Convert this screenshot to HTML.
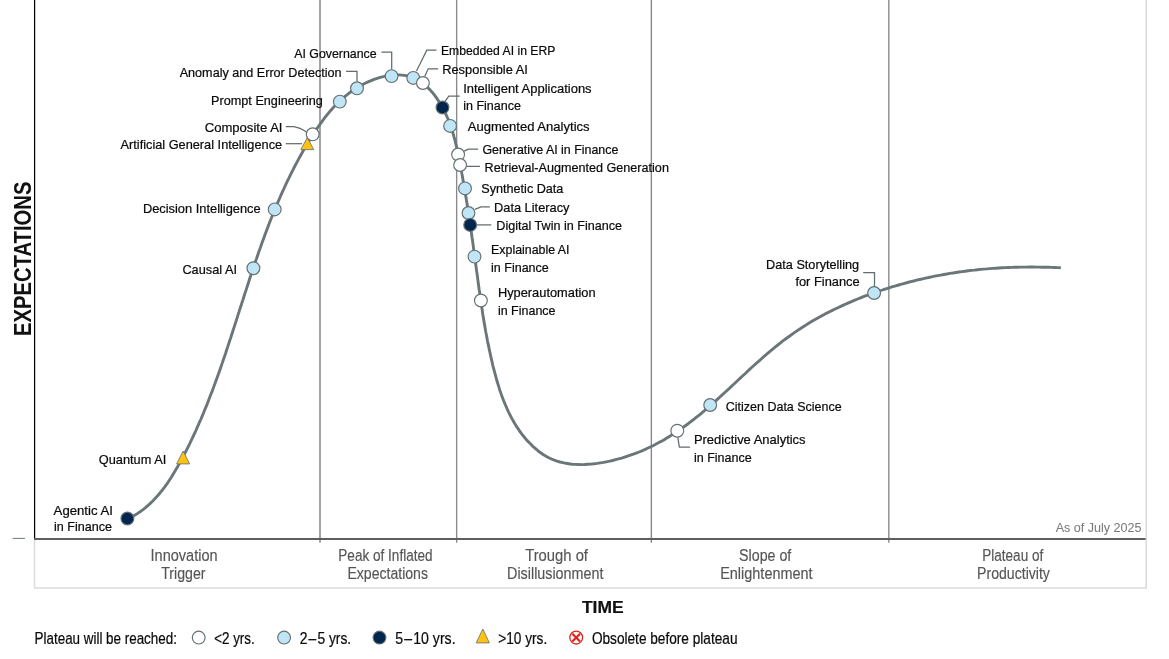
<!DOCTYPE html>
<html lang="en"><head><meta charset="utf-8"><title>Hype Cycle</title>
<style>html,body{margin:0;padding:0;background:#fff}body{width:1169px;height:659px;overflow:hidden}svg{will-change:transform}svg text{font-family:"Liberation Sans",sans-serif}</style>
</head><body>
<svg width="1169" height="659" viewBox="0 0 1169 659" style="display:block">
<rect x="0" y="0" width="1169" height="659" fill="#fff"/>
<path d="M34.5,540 V588 H1146.2 V0" fill="none" stroke="#dcdcdc" stroke-width="1.6"/>
<line x1="320.0" y1="0" x2="320.0" y2="542.8" stroke="#787878" stroke-width="1.35"/>
<line x1="456.65" y1="0" x2="456.65" y2="542.8" stroke="#8a8a8a" stroke-width="1.35"/>
<line x1="651.35" y1="0" x2="651.35" y2="542.8" stroke="#868686" stroke-width="1.35"/>
<line x1="888.85" y1="0" x2="888.85" y2="542.8" stroke="#868686" stroke-width="1.35"/>
<line x1="34.6" y1="0" x2="34.6" y2="539.7" stroke="#000" stroke-width="1.25"/>
<line x1="34.0" y1="538.9" x2="1145.6" y2="538.9" stroke="#5e5e5e" stroke-width="2"/>
<line x1="12.7" y1="538.4" x2="24.9" y2="538.4" stroke="#6a7678" stroke-width="1"/>
<path d="M127.6,519.0 L130.5,517.6 L133.2,516.1 L135.9,514.6 L138.4,512.9 L140.9,511.2 L143.4,509.3 L145.8,507.4 L148.1,505.4 L150.3,503.4 L152.5,501.3 L154.6,499.1 L156.7,496.8 L158.7,494.5 L160.6,492.2 L162.5,489.8 L164.4,487.3 L166.2,484.8 L168.0,482.3 L169.7,479.7 L171.4,477.1 L173.0,474.4 L174.6,471.8 L176.2,469.1 L177.8,466.4 L179.3,463.6 L180.8,460.9 L182.3,458.1 L183.7,455.4 L185.2,452.6 L186.6,449.8 L188.0,447.1 L189.4,444.3 L190.7,441.5 L192.1,438.7 L193.4,435.9 L194.7,433.1 L196.0,430.3 L197.2,427.5 L198.5,424.6 L199.7,421.8 L201.0,419.0 L202.2,416.1 L203.4,413.3 L204.5,410.4 L205.7,407.6 L206.9,404.7 L208.0,401.9 L209.1,399.0 L210.2,396.1 L211.3,393.3 L212.4,390.4 L213.5,387.5 L214.6,384.6 L215.6,381.7 L216.7,378.9 L217.7,376.0 L218.8,373.1 L219.8,370.2 L220.8,367.3 L221.8,364.4 L222.8,361.4 L223.8,358.5 L224.8,355.6 L225.8,352.7 L226.7,349.8 L227.7,346.9 L228.7,343.9 L229.6,341.0 L230.6,338.1 L231.5,335.2 L232.5,332.2 L233.4,329.3 L234.4,326.4 L235.3,323.4 L236.3,320.5 L237.2,317.6 L238.1,314.6 L239.1,311.7 L240.0,308.7 L241.0,305.8 L241.9,302.8 L242.9,299.9 L243.8,297.0 L244.7,294.0 L245.7,291.1 L246.7,288.1 L247.6,285.2 L248.6,282.2 L249.5,279.3 L250.5,276.3 L251.5,273.4 L252.5,270.5 L253.5,267.5 L254.4,264.6 L255.4,261.6 L256.5,258.7 L257.5,255.8 L258.5,252.8 L259.5,249.9 L260.6,247.0 L261.6,244.0 L262.7,241.1 L263.7,238.2 L264.8,235.3 L265.9,232.3 L267.0,229.4 L268.1,226.5 L269.2,223.6 L270.3,220.7 L271.5,217.8 L272.6,214.9 L273.8,212.1 L275.0,209.2 L276.2,206.3 L277.4,203.5 L278.6,200.6 L279.8,197.8 L281.1,194.9 L282.3,192.1 L283.6,189.3 L284.9,186.5 L286.2,183.7 L287.5,180.9 L288.9,178.1 L290.2,175.3 L291.6,172.5 L293.0,169.8 L294.4,167.0 L295.8,164.3 L297.3,161.6 L298.7,158.9 L300.2,156.2 L301.7,153.5 L303.2,150.8 L304.8,148.2 L306.3,145.5 L307.9,142.9 L309.5,140.2 L311.1,137.6 L312.8,135.0 L314.4,132.5 L316.1,129.9 L317.8,127.4 L319.6,124.8 L321.4,122.3 L323.2,119.9 L325.0,117.4 L326.9,115.0 L328.9,112.6 L330.9,110.3 L332.9,108.0 L335.0,105.8 L337.1,103.6 L339.3,101.4 L341.6,99.3 L343.9,97.3 L346.3,95.3 L348.8,93.4 L351.3,91.5 L353.9,89.7 L356.6,88.0 L359.4,86.3 L362.2,84.8 L365.1,83.3 L368.1,81.9 L371.1,80.6 L374.1,79.4 L377.2,78.3 L380.3,77.4 L383.4,76.6 L386.5,75.9 L389.6,75.4 L392.7,75.1 L395.7,74.9 L398.8,74.9 L401.8,75.1 L404.7,75.4 L407.6,76.0 L410.4,76.7 L413.2,77.7 L415.8,78.9 L418.4,80.3 L420.9,81.9 L423.3,83.6 L425.7,85.6 L427.9,87.7 L430.1,89.9 L432.1,92.2 L434.1,94.7 L436.0,97.2 L437.8,99.8 L439.6,102.5 L441.2,105.2 L442.7,108.0 L444.2,110.8 L445.6,113.6 L446.9,116.5 L448.1,119.3 L449.2,122.2 L450.3,125.1 L451.3,128.1 L452.3,131.0 L453.2,133.9 L454.0,136.9 L454.9,139.9 L455.6,142.9 L456.3,145.9 L457.0,148.9 L457.7,151.9 L458.3,154.9 L458.9,158.0 L459.5,161.0 L460.1,164.0 L460.7,167.1 L461.3,170.1 L461.8,173.2 L462.4,176.2 L462.9,179.2 L463.4,182.3 L464.0,185.3 L464.5,188.4 L465.0,191.4 L465.5,194.5 L466.0,197.5 L466.5,200.6 L467.0,203.6 L467.5,206.7 L468.0,209.7 L468.4,212.8 L468.9,215.9 L469.4,218.9 L469.8,222.0 L470.3,225.0 L470.7,228.1 L471.2,231.1 L471.6,234.2 L472.0,237.3 L472.5,240.3 L472.9,243.4 L473.3,246.4 L473.7,249.5 L474.2,252.6 L474.6,255.6 L475.0,258.7 L475.4,261.7 L475.8,264.8 L476.2,267.9 L476.6,270.9 L477.1,274.0 L477.5,277.1 L477.9,280.1 L478.3,283.2 L478.7,286.2 L479.1,289.3 L479.6,292.3 L480.0,295.4 L480.4,298.5 L480.9,301.5 L481.3,304.6 L481.8,307.6 L482.3,310.7 L482.7,313.7 L483.2,316.8 L483.7,319.8 L484.2,322.9 L484.8,325.9 L485.3,328.9 L485.8,332.0 L486.4,335.0 L487.0,338.1 L487.5,341.1 L488.2,344.1 L488.8,347.1 L489.4,350.2 L490.1,353.2 L490.7,356.2 L491.4,359.2 L492.1,362.2 L492.8,365.3 L493.6,368.3 L494.4,371.3 L495.2,374.3 L496.0,377.3 L496.8,380.3 L497.7,383.2 L498.6,386.2 L499.5,389.2 L500.5,392.1 L501.5,395.0 L502.6,397.9 L503.7,400.8 L504.9,403.7 L506.1,406.5 L507.3,409.3 L508.6,412.1 L510.0,414.9 L511.4,417.6 L512.9,420.3 L514.4,423.0 L516.0,425.6 L517.7,428.2 L519.5,430.8 L521.3,433.3 L523.2,435.8 L525.2,438.2 L527.2,440.6 L529.4,442.8 L531.6,445.1 L533.8,447.2 L536.1,449.2 L538.5,451.2 L541.0,453.0 L543.5,454.7 L546.1,456.3 L548.8,457.7 L551.5,459.0 L554.3,460.2 L557.1,461.2 L560.0,462.0 L563.0,462.7 L566.0,463.3 L569.0,463.8 L572.1,464.2 L575.1,464.4 L578.3,464.5 L581.4,464.6 L584.5,464.5 L587.7,464.3 L590.8,464.1 L594.0,463.8 L597.1,463.4 L600.3,462.9 L603.4,462.4 L606.5,461.8 L609.5,461.2 L612.6,460.5 L615.6,459.7 L618.6,458.9 L621.6,458.1 L624.6,457.2 L627.5,456.2 L630.4,455.2 L633.3,454.2 L636.2,453.1 L639.1,452.0 L641.9,450.8 L644.7,449.6 L647.5,448.3 L650.3,447.0 L653.0,445.7 L655.7,444.3 L658.4,442.8 L661.1,441.4 L663.8,439.9 L666.4,438.3 L669.0,436.7 L671.6,435.1 L674.2,433.5 L676.8,431.8 L679.3,430.1 L681.8,428.3 L684.3,426.5 L686.8,424.7 L689.2,422.9 L691.7,421.0 L694.1,419.1 L696.5,417.2 L698.9,415.3 L701.3,413.3 L703.6,411.3 L706.0,409.3 L708.3,407.3 L710.7,405.3 L713.0,403.2 L715.3,401.2 L717.6,399.1 L719.9,397.0 L722.2,394.9 L724.5,392.8 L726.8,390.7 L729.1,388.6 L731.4,386.4 L733.7,384.3 L735.9,382.2 L738.2,380.0 L740.5,377.9 L742.8,375.8 L745.1,373.7 L747.3,371.5 L749.6,369.4 L751.9,367.3 L754.2,365.2 L756.5,363.1 L758.9,361.1 L761.2,359.0 L763.5,356.9 L765.9,354.9 L768.2,352.9 L770.6,350.9 L773.0,348.9 L775.4,346.9 L777.8,345.0 L780.2,343.1 L782.6,341.2 L785.1,339.3 L787.6,337.5 L790.1,335.7 L792.6,333.9 L795.1,332.1 L797.7,330.4 L800.2,328.7 L802.8,327.0 L805.4,325.4 L808.0,323.7 L810.7,322.1 L813.3,320.6 L816.0,319.0 L818.7,317.5 L821.4,316.0 L824.1,314.6 L826.8,313.1 L829.6,311.7 L832.3,310.4 L835.1,309.0 L837.9,307.7 L840.7,306.4 L843.5,305.1 L846.3,303.8 L849.1,302.6 L852.0,301.4 L854.8,300.2 L857.7,299.0 L860.5,297.9 L863.4,296.7 L866.3,295.6 L869.2,294.6 L872.1,293.5 L875.0,292.5 L878.0,291.5 L880.9,290.5 L883.8,289.5 L886.8,288.6 L889.7,287.6 L892.7,286.7 L895.7,285.9 L898.6,285.0 L901.6,284.2 L904.6,283.3 L907.6,282.5 L910.6,281.7 L913.6,281.0 L916.6,280.2 L919.6,279.5 L922.6,278.8 L925.6,278.1 L928.6,277.5 L931.6,276.8 L934.7,276.2 L937.7,275.6 L940.7,275.1 L943.8,274.5 L946.8,274.0 L949.9,273.4 L952.9,273.0 L956.0,272.5 L959.0,272.0 L962.1,271.6 L965.2,271.2 L968.2,270.8 L971.3,270.4 L974.4,270.1 L977.4,269.7 L980.5,269.4 L983.6,269.1 L986.7,268.9 L989.8,268.6 L992.8,268.4 L995.9,268.2 L999.0,268.0 L1002.1,267.8 L1005.2,267.6 L1008.3,267.5 L1011.4,267.4 L1014.4,267.3 L1017.5,267.2 L1020.6,267.1 L1023.7,267.1 L1026.8,267.1 L1029.9,267.0 L1033.0,267.0 L1036.1,267.1 L1039.2,267.1 L1042.3,267.2 L1045.4,267.2 L1048.4,267.3 L1051.5,267.4 L1054.6,267.5 L1057.7,267.6 L1060.8,267.8" fill="none" stroke="#6a7678" stroke-width="2.9" stroke-linecap="butt" stroke-linejoin="round"/>
<path d="M285.8,126.7 H294 Q300,127.5 306.3,131.8" fill="none" stroke="#606c6e" stroke-width="1.25"/>
<path d="M285.8,143.7 H302" fill="none" stroke="#606c6e" stroke-width="1.25"/>
<path d="M381.5,52.2 H391.7 V69.5" fill="none" stroke="#606c6e" stroke-width="1.25"/>
<path d="M346.1,71.3 H357 V81.5" fill="none" stroke="#606c6e" stroke-width="1.25"/>
<path d="M436.5,50.1 H426.8 L416.5,71" fill="none" stroke="#606c6e" stroke-width="1.25"/>
<path d="M438.1,68.8 H428.2 L424.8,76.2" fill="none" stroke="#606c6e" stroke-width="1.25"/>
<path d="M459.7,96.1 H448.8 L444.7,101.9" fill="none" stroke="#606c6e" stroke-width="1.25"/>
<path d="M478.1,149.1 H468.3 L464.2,151.1" fill="none" stroke="#606c6e" stroke-width="1.25"/>
<path d="M466.7,166.4 H480" fill="none" stroke="#606c6e" stroke-width="1.25"/>
<path d="M489.9,206.9 H481 L474.9,209.3" fill="none" stroke="#606c6e" stroke-width="1.25"/>
<path d="M477,224.9 H491.3" fill="none" stroke="#606c6e" stroke-width="1.25"/>
<path d="M677.8,437.3 L679.4,447.1 H690.1" fill="none" stroke="#606c6e" stroke-width="1.25"/>
<path d="M863.2,272.5 H874.5 V286.5" fill="none" stroke="#606c6e" stroke-width="1.25"/>
<path d="M183.1,451.0 L189.6,463.9 L176.6,463.9 Z" fill="#ffc20e" stroke="#6f787a" stroke-width="0.9" stroke-linejoin="miter"/>
<path d="M307.3,137.6 L313.8,149.6 L300.8,149.6 Z" fill="#ffc20e" stroke="#6f787a" stroke-width="0.9" stroke-linejoin="miter"/>
<circle cx="127.4" cy="518.5" r="6.4" fill="#00264f" stroke="#647072" stroke-width="1.15"/>
<circle cx="253.4" cy="268.2" r="6.4" fill="#bfe5f6" stroke="#647072" stroke-width="1.15"/>
<circle cx="274.7" cy="209.4" r="6.4" fill="#bfe5f6" stroke="#647072" stroke-width="1.15"/>
<circle cx="312.7" cy="134.3" r="6.4" fill="#ffffff" stroke="#647072" stroke-width="1.15"/>
<circle cx="339.8" cy="101.6" r="6.4" fill="#bfe5f6" stroke="#647072" stroke-width="1.15"/>
<circle cx="357" cy="88.3" r="6.4" fill="#bfe5f6" stroke="#647072" stroke-width="1.15"/>
<circle cx="391.6" cy="76.1" r="6.4" fill="#bfe5f6" stroke="#647072" stroke-width="1.15"/>
<circle cx="413.3" cy="77.9" r="6.4" fill="#bfe5f6" stroke="#647072" stroke-width="1.15"/>
<circle cx="422.9" cy="83.0" r="6.4" fill="#ffffff" stroke="#647072" stroke-width="1.15"/>
<circle cx="442.5" cy="107.5" r="6.4" fill="#00264f" stroke="#647072" stroke-width="1.15"/>
<circle cx="450.1" cy="125.9" r="6.4" fill="#bfe5f6" stroke="#647072" stroke-width="1.15"/>
<circle cx="458.1" cy="154.5" r="6.4" fill="#ffffff" stroke="#647072" stroke-width="1.15"/>
<circle cx="460.1" cy="165" r="6.4" fill="#ffffff" stroke="#647072" stroke-width="1.15"/>
<circle cx="465" cy="188.4" r="6.4" fill="#bfe5f6" stroke="#647072" stroke-width="1.15"/>
<circle cx="468.5" cy="213" r="6.4" fill="#bfe5f6" stroke="#647072" stroke-width="1.15"/>
<circle cx="470.2" cy="224.9" r="6.4" fill="#00264f" stroke="#647072" stroke-width="1.15"/>
<circle cx="474.5" cy="256.6" r="6.4" fill="#bfe5f6" stroke="#647072" stroke-width="1.15"/>
<circle cx="480.9" cy="300.5" r="6.4" fill="#ffffff" stroke="#647072" stroke-width="1.15"/>
<circle cx="677.3" cy="430.7" r="6.4" fill="#ffffff" stroke="#647072" stroke-width="1.15"/>
<circle cx="710.2" cy="405" r="6.4" fill="#bfe5f6" stroke="#647072" stroke-width="1.15"/>
<circle cx="874.1" cy="293" r="6.4" fill="#bfe5f6" stroke="#647072" stroke-width="1.15"/>
<text x="53.6" y="515.0" font-size="13.4" fill="#0a0a0a" font-weight="normal" textLength="59.3" lengthAdjust="spacingAndGlyphs" stroke="#0a0a0a" stroke-width="0.22">Agentic AI</text>
<text x="54.0" y="531.0" font-size="13.4" fill="#0a0a0a" font-weight="normal" textLength="58.0" lengthAdjust="spacingAndGlyphs" stroke="#0a0a0a" stroke-width="0.22">in Finance</text>
<text x="98.8" y="464.0" font-size="13.4" fill="#0a0a0a" font-weight="normal" textLength="67.5" lengthAdjust="spacingAndGlyphs" stroke="#0a0a0a" stroke-width="0.22">Quantum AI</text>
<text x="182.4" y="274.0" font-size="13.4" fill="#0a0a0a" font-weight="normal" textLength="54.6" lengthAdjust="spacingAndGlyphs" stroke="#0a0a0a" stroke-width="0.22">Causal AI</text>
<text x="142.9" y="213.0" font-size="13.4" fill="#0a0a0a" font-weight="normal" textLength="117.8" lengthAdjust="spacingAndGlyphs" stroke="#0a0a0a" stroke-width="0.22">Decision Intelligence</text>
<text x="120.5" y="149.0" font-size="13.4" fill="#0a0a0a" font-weight="normal" textLength="161.6" lengthAdjust="spacingAndGlyphs" stroke="#0a0a0a" stroke-width="0.22">Artificial General Intelligence</text>
<text x="204.7" y="132.0" font-size="13.4" fill="#0a0a0a" font-weight="normal" textLength="77.8" lengthAdjust="spacingAndGlyphs" stroke="#0a0a0a" stroke-width="0.22">Composite AI</text>
<text x="211.1" y="105.0" font-size="13.4" fill="#0a0a0a" font-weight="normal" textLength="111.8" lengthAdjust="spacingAndGlyphs" stroke="#0a0a0a" stroke-width="0.22">Prompt Engineering</text>
<text x="179.7" y="77.0" font-size="13.4" fill="#0a0a0a" font-weight="normal" textLength="161.9" lengthAdjust="spacingAndGlyphs" stroke="#0a0a0a" stroke-width="0.22">Anomaly and Error Detection</text>
<text x="294.2" y="58.0" font-size="13.4" fill="#0a0a0a" font-weight="normal" textLength="82.5" lengthAdjust="spacingAndGlyphs" stroke="#0a0a0a" stroke-width="0.22">AI Governance</text>
<text x="441.0" y="55.0" font-size="13.4" fill="#0a0a0a" font-weight="normal" textLength="114.3" lengthAdjust="spacingAndGlyphs" stroke="#0a0a0a" stroke-width="0.22">Embedded AI in ERP</text>
<text x="442.2" y="74.0" font-size="13.4" fill="#0a0a0a" font-weight="normal" textLength="85.6" lengthAdjust="spacingAndGlyphs" stroke="#0a0a0a" stroke-width="0.22">Responsible AI</text>
<text x="463.2" y="93.0" font-size="13.4" fill="#0a0a0a" font-weight="normal" textLength="128.4" lengthAdjust="spacingAndGlyphs" stroke="#0a0a0a" stroke-width="0.22">Intelligent Applications</text>
<text x="463.2" y="110.0" font-size="13.4" fill="#0a0a0a" font-weight="normal" textLength="57.8" lengthAdjust="spacingAndGlyphs" stroke="#0a0a0a" stroke-width="0.22">in Finance</text>
<text x="467.7" y="131.0" font-size="13.4" fill="#0a0a0a" font-weight="normal" textLength="121.9" lengthAdjust="spacingAndGlyphs" stroke="#0a0a0a" stroke-width="0.22">Augmented Analytics</text>
<text x="482.4" y="154.0" font-size="13.4" fill="#0a0a0a" font-weight="normal" textLength="136.0" lengthAdjust="spacingAndGlyphs" stroke="#0a0a0a" stroke-width="0.22">Generative AI in Finance</text>
<text x="484.6" y="172.0" font-size="13.4" fill="#0a0a0a" font-weight="normal" textLength="184.3" lengthAdjust="spacingAndGlyphs" stroke="#0a0a0a" stroke-width="0.22">Retrieval-Augmented Generation</text>
<text x="481.3" y="193.0" font-size="13.4" fill="#0a0a0a" font-weight="normal" textLength="82.1" lengthAdjust="spacingAndGlyphs" stroke="#0a0a0a" stroke-width="0.22">Synthetic Data</text>
<text x="494.0" y="212.0" font-size="13.4" fill="#0a0a0a" font-weight="normal" textLength="75.5" lengthAdjust="spacingAndGlyphs" stroke="#0a0a0a" stroke-width="0.22">Data Literacy</text>
<text x="496.3" y="230.0" font-size="13.4" fill="#0a0a0a" font-weight="normal" textLength="125.8" lengthAdjust="spacingAndGlyphs" stroke="#0a0a0a" stroke-width="0.22">Digital Twin in Finance</text>
<text x="491.1" y="254.0" font-size="13.4" fill="#0a0a0a" font-weight="normal" textLength="78.4" lengthAdjust="spacingAndGlyphs" stroke="#0a0a0a" stroke-width="0.22">Explainable AI</text>
<text x="491.1" y="272.0" font-size="13.4" fill="#0a0a0a" font-weight="normal" textLength="57.7" lengthAdjust="spacingAndGlyphs" stroke="#0a0a0a" stroke-width="0.22">in Finance</text>
<text x="497.9" y="297.0" font-size="13.4" fill="#0a0a0a" font-weight="normal" textLength="97.7" lengthAdjust="spacingAndGlyphs" stroke="#0a0a0a" stroke-width="0.22">Hyperautomation</text>
<text x="497.9" y="315.0" font-size="13.4" fill="#0a0a0a" font-weight="normal" textLength="57.7" lengthAdjust="spacingAndGlyphs" stroke="#0a0a0a" stroke-width="0.22">in Finance</text>
<text x="725.8" y="411.0" font-size="13.4" fill="#0a0a0a" font-weight="normal" textLength="115.9" lengthAdjust="spacingAndGlyphs" stroke="#0a0a0a" stroke-width="0.22">Citizen Data Science</text>
<text x="693.9" y="444.0" font-size="13.4" fill="#0a0a0a" font-weight="normal" textLength="111.7" lengthAdjust="spacingAndGlyphs" stroke="#0a0a0a" stroke-width="0.22">Predictive Analytics</text>
<text x="693.9" y="462.0" font-size="13.4" fill="#0a0a0a" font-weight="normal" textLength="57.9" lengthAdjust="spacingAndGlyphs" stroke="#0a0a0a" stroke-width="0.22">in Finance</text>
<text x="766.1" y="269.0" font-size="13.4" fill="#0a0a0a" font-weight="normal" textLength="93.0" lengthAdjust="spacingAndGlyphs" stroke="#0a0a0a" stroke-width="0.22">Data Storytelling</text>
<text x="795.4" y="286.0" font-size="13.4" fill="#0a0a0a" font-weight="normal" textLength="64.3" lengthAdjust="spacingAndGlyphs" stroke="#0a0a0a" stroke-width="0.22">for Finance</text>
<text x="150.5" y="561.0" font-size="16.3" fill="#555555" font-weight="normal" textLength="67.1" lengthAdjust="spacingAndGlyphs" stroke="#555555" stroke-width="0.15">Innovation</text>
<text x="161.2" y="579.0" font-size="16.3" fill="#555555" font-weight="normal" textLength="44.3" lengthAdjust="spacingAndGlyphs" stroke="#555555" stroke-width="0.15">Trigger</text>
<text x="338.3" y="561.0" font-size="16.3" fill="#555555" font-weight="normal" textLength="94.3" lengthAdjust="spacingAndGlyphs" stroke="#555555" stroke-width="0.15">Peak of Inflated</text>
<text x="347.4" y="579.0" font-size="16.3" fill="#555555" font-weight="normal" textLength="80.6" lengthAdjust="spacingAndGlyphs" stroke="#555555" stroke-width="0.15">Expectations</text>
<text x="525.2" y="561.0" font-size="16.3" fill="#555555" font-weight="normal" textLength="62.8" lengthAdjust="spacingAndGlyphs" stroke="#555555" stroke-width="0.15">Trough of</text>
<text x="507.1" y="579.0" font-size="16.3" fill="#555555" font-weight="normal" textLength="96.3" lengthAdjust="spacingAndGlyphs" stroke="#555555" stroke-width="0.15">Disillusionment</text>
<text x="739.1" y="561.0" font-size="16.3" fill="#555555" font-weight="normal" textLength="52.2" lengthAdjust="spacingAndGlyphs" stroke="#555555" stroke-width="0.15">Slope of</text>
<text x="720.2" y="579.0" font-size="16.3" fill="#555555" font-weight="normal" textLength="92.4" lengthAdjust="spacingAndGlyphs" stroke="#555555" stroke-width="0.15">Enlightenment</text>
<text x="982.2" y="561.0" font-size="16.3" fill="#555555" font-weight="normal" textLength="61.1" lengthAdjust="spacingAndGlyphs" stroke="#555555" stroke-width="0.15">Plateau of</text>
<text x="977.1" y="579.0" font-size="16.3" fill="#555555" font-weight="normal" textLength="72.8" lengthAdjust="spacingAndGlyphs" stroke="#555555" stroke-width="0.15">Productivity</text>
<text x="1055.7" y="532.0" font-size="13.4" fill="#7c7c7c" font-weight="normal" textLength="85.8" lengthAdjust="spacingAndGlyphs" stroke="#7c7c7c" stroke-width="0.05">As of July 2025</text>
<text x="581.9" y="613.0" font-size="16.8" fill="#111" font-weight="bold" textLength="41.7" lengthAdjust="spacingAndGlyphs" stroke="#111" stroke-width="0.22">TIME</text>
<text transform="translate(30.5,336) rotate(-90)" x="0" y="0" font-size="23" font-weight="bold" fill="#111" textLength="154.4" lengthAdjust="spacingAndGlyphs">EXPECTATIONS</text>
<text x="34.6" y="644.0" font-size="16.3" fill="#0a0a0a" font-weight="normal" textLength="142.3" lengthAdjust="spacingAndGlyphs" stroke="#0a0a0a" stroke-width="0.22">Plateau will be reached:</text>
<text x="214.2" y="644.0" font-size="16.3" fill="#0a0a0a" font-weight="normal" textLength="40.5" lengthAdjust="spacingAndGlyphs" stroke="#0a0a0a" stroke-width="0.22">&lt;2 yrs.</text>
<text x="299.8" y="644.0" font-size="16.3" fill="#0a0a0a" font-weight="normal" textLength="51.4" lengthAdjust="spacingAndGlyphs" stroke="#0a0a0a" stroke-width="0.22">2 – 5 yrs.</text>
<text x="395.2" y="644.0" font-size="16.3" fill="#0a0a0a" font-weight="normal" textLength="60.4" lengthAdjust="spacingAndGlyphs" stroke="#0a0a0a" stroke-width="0.22">5 – 10 yrs.</text>
<text x="498.3" y="644.0" font-size="16.3" fill="#0a0a0a" font-weight="normal" textLength="48.9" lengthAdjust="spacingAndGlyphs" stroke="#0a0a0a" stroke-width="0.22">&gt;10 yrs.</text>
<text x="591.9" y="644.0" font-size="16.3" fill="#0a0a0a" font-weight="normal" textLength="145.6" lengthAdjust="spacingAndGlyphs" stroke="#0a0a0a" stroke-width="0.22">Obsolete before plateau</text>
<circle cx="198.7" cy="637.6" r="6.4" fill="#ffffff" stroke="#647072" stroke-width="1.15"/>
<circle cx="284.1" cy="637.6" r="6.4" fill="#bfe5f6" stroke="#647072" stroke-width="1.15"/>
<circle cx="379.5" cy="637.6" r="6.4" fill="#00264f" stroke="#647072" stroke-width="1.15"/>
<path d="M482.8,629.0 L489.40000000000003,642.9 L476.2,642.9 Z" fill="#ffc20e" stroke="#6f787a" stroke-width="0.9" stroke-linejoin="miter"/>
<g stroke="#e0231c" fill="none"><circle cx="576.2" cy="637.6" r="6.4" stroke-width="1.3" fill="#fff"/><path d="M572.3,633.7 L580.1,641.5 M580.1,633.7 L572.3,641.5" stroke-width="2.2"/></g>
</svg>
</body></html>
